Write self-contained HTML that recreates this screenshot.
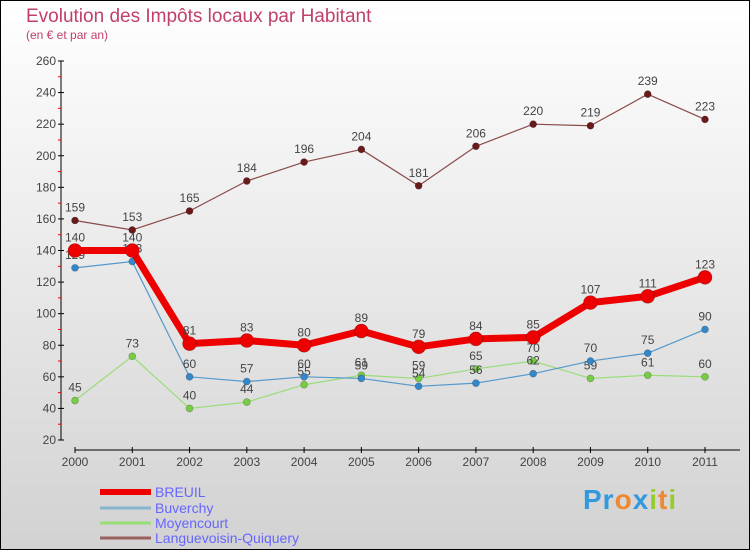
<!DOCTYPE html>
<html><head><meta charset="utf-8"><style>
html,body{margin:0;padding:0}
body{width:750px;height:550px;overflow:hidden}
svg text{font-family:"Liberation Sans",sans-serif}
</style></head><body>
<svg id="chart" width="750" height="550" xmlns="http://www.w3.org/2000/svg">
<defs><linearGradient id="bg" x1="0" y1="0" x2="0" y2="1"><stop offset="0" stop-color="#ffffff"/><stop offset="1" stop-color="#d2d2d2"/></linearGradient></defs>
<rect x="0.5" y="0.5" width="749" height="549" fill="url(#bg)" stroke="#000"/>
<text x="26" y="22" font-size="19" fill="#c0406a">Evolution des Impôts locaux par Habitant</text>
<text x="26" y="39" font-size="12" fill="#c0406a">(en € et par an)</text>
<g id="axes"></g>
<g id="series"></g>
<g id="legend"></g>
</svg>
<script>
const years = [2000,2001,2002,2003,2004,2005,2006,2007,2008,2009,2010,2011];
const yTicks = [20,40,60,80,100,120,140,160,180,200,220,240,260];
const breuil = [140,140,81,83,80,89,79,84,85,107,111,123];
const buverchy = [129,133,60,57,60,59,54,56,62,70,75,90];
const moyencourt = [45,73,40,44,55,61,59,65,70,59,61,60];
const languevoisin = [159,153,165,184,196,204,181,206,220,219,239,223];
const seriesNames = ["BREUIL","Buverchy","Moyencourt","Languevoisin-Quiquery"];

const NS="http://www.w3.org/2000/svg";
const x = i => 75 + i*(705-75)/11;
const y = v => 440 - (v-20)*(440-61)/240;
function mk(tag, attrs, parent){const e=document.createElementNS(NS,tag);for(const k in attrs)e.setAttribute(k,attrs[k]);parent.appendChild(e);return e;}
const axes=document.getElementById('axes');
let yl=mk('line',{x1:61,y1:61,x2:61,y2:440,stroke:'#000','stroke-width':1},axes);


yTicks.forEach((t,i)=>{
  let l=mk('line',{x1:58,y1:y(t),x2:64,y2:y(t),stroke:'#000'},axes);
  
  
  if(i<yTicks.length-1){let m=mk('line',{x1:58,y1:y(t+10),x2:61,y2:y(t+10),stroke:'#e00'},axes);
    
    }
  let tx=mk('text',{x:56,y:y(t)+4,'text-anchor':'end','font-size':12,fill:'#444'},axes);
  tx.textContent=t;
  
  
});
let xl=mk('line',{x1:75,y1:450,x2:740,y2:450,stroke:'#000'},axes);


years.forEach((yr,i)=>{
  let l=mk('line',{x1:x(i),y1:447,x2:x(i),y2:453,stroke:'#000'},axes);
  
  
  let tx=mk('text',{x:x(i),y:466,'text-anchor':'middle','font-size':12,fill:'#444'},axes);
  tx.textContent=yr;
  
  
});
const sg=document.getElementById('series');
function drawSeries(vals,color,dot,w,r,name){
  const g=mk('g',{},sg);
  
  
  let p=mk('polyline',{points:vals.map((v,i)=>x(i)+','+y(v)).join(' '),fill:'none',stroke:color,'stroke-width':w,'stroke-linejoin':'round'},g);
  
  
  vals.forEach((v,i)=>{
    let c=mk('circle',{cx:x(i),cy:y(v),r:r,fill:dot,stroke:'rgba(0,0,0,0.3)','stroke-width':0.6},g);
    
    
    let t=mk('text',{x:x(i),y:y(v)-9,'text-anchor':'middle','font-size':12,fill:'#444'},g);
    t.textContent=v;
    
    
  });
}
drawSeries(languevoisin,'#8a4a4a','#6b1a1a',1.2,3.5,'languevoisin');
drawSeries(moyencourt,'#99dd77','#77cc44',1.2,3.5,'moyencourt');
drawSeries(buverchy,'#5599cc','#3388cc',1.2,3.5,'buverchy');
drawSeries(breuil,'#ee0000','#ee0000',7,7,'breuil');
const lg=document.getElementById('legend');
const lcol=['#ee0000','#88b4d0','#99dd77','#9a6060'];
const lw=[6,3,3,3];
const ly=[492,508,523,538];
seriesNames.forEach((n,i)=>{
  let l=mk('line',{x1:100,y1:ly[i],x2:151,y2:ly[i],stroke:lcol[i],'stroke-width':lw[i]},lg);
  
  
  let t=mk('text',{x:155,y:ly[i]+5,'font-size':14,fill:'#6666ff'},lg);
  t.textContent=n;
  
  
});
</script>
<div style="position:absolute;left:583px;top:484px;font:bold 28px 'Liberation Sans',sans-serif;letter-spacing:1px"><span style="color:#3399dd">Pr</span><span style="color:#ee8833">o</span><span style="color:#3399dd">x</span><span style="color:#99cc33">i</span><span style="color:#ee8833">t</span><span style="color:#99cc33">i</span></div>
</body></html>
